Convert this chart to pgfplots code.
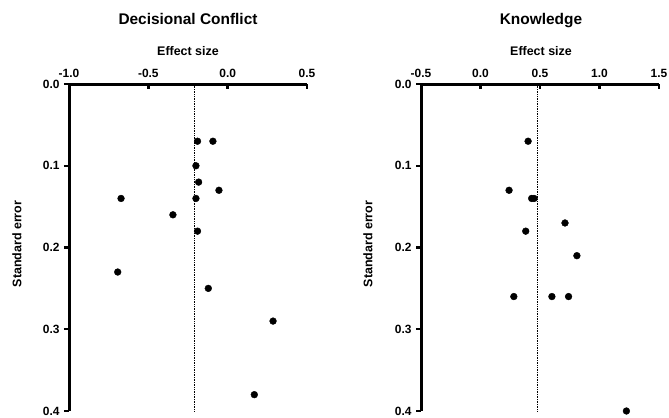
\documentclass[border=0pt]{standalone}
\usepackage{pgfplots}
\pgfplotsset{compat=1.18}
\usepackage{fontspec}
\setmainfont{Liberation Sans}
\pgfplotsset{
  funnel/.style={
    scale only axis, width=238bp, height=327bp,
    y dir=reverse,
    ymin=0, ymax=0.4,
    ytick={0,0.1,0.2,0.3,0.4},
    axis x line*=top, axis y line*=left,
    x axis line style={line width=3bp, -},
    y axis line style={line width=3bp, -},
    xtick align=inside, ytick align=outside,
    major tick length=5bp,
    every tick/.style={line width=2.4bp, black},
    every major tick/.append style={line width=2.4bp, black},
    minor tick num=0,
    /pgf/number format/assume math mode=true,
    /pgf/number format/fixed, /pgf/number format/fixed zerofill, /pgf/number format/precision=1,
    tick label style={font=\fontsize{12}{12}\selectfont\bfseries},
    x tick label style={yshift=2.5bp},
    y tick label style={xshift=-1bp},
    clip=false,
  },
}
\begin{document}
\begin{tikzpicture}
\path[use as bounding box] (0,0) rectangle (669bp,-418bp);
\begin{axis}[funnel, at={(69bp,-84bp)}, anchor=north west,
  xmin=-1, xmax=0.5, xtick={-1,-0.5,0,0.5}]
\addplot[only marks, mark=*, mark size=3.4bp, black] coordinates {
 (-0.19,0.07) (-0.093,0.07) (-0.20,0.10) (-0.183,0.12) (-0.055,0.13)
 (-0.672,0.14) (-0.20,0.14) (-0.345,0.16) (-0.19,0.18) (-0.693,0.23)
 (-0.122,0.25) (0.286,0.29) (0.168,0.38)
};
\addplot[densely dotted, black, line width=0.7pt] coordinates {(-0.212,0) (-0.212,0.4)};
\end{axis}
\begin{axis}[funnel, at={(421bp,-84bp)}, anchor=north west,
  xmin=-0.5, xmax=1.5, xtick={-0.5,0,0.5,1,1.5}]
\addplot[only marks, mark=*, mark size=3.4bp, black] coordinates {
 (0.40,0.07) (0.24,0.13) (0.43,0.14) (0.45,0.14) (0.71,0.17)
 (0.38,0.18) (0.81,0.21) (0.28,0.26) (0.60,0.26) (0.74,0.26) (1.226,0.40)
};
\addplot[densely dotted, black, line width=0.7pt] coordinates {(0.48,0) (0.48,0.4)};
\end{axis}
\node[font=\fontsize{15.5}{16}\selectfont\bfseries, anchor=base] at (188bp,-24.5bp) {Decisional Conflict};
\node[font=\fontsize{15.5}{16}\selectfont\bfseries, anchor=base] at (541bp,-24.5bp) {Knowledge};
\node[font=\fontsize{12.5}{13}\selectfont\bfseries, anchor=base] at (188bp,-55bp) {Effect size};
\node[font=\fontsize{12.5}{13}\selectfont\bfseries, anchor=base] at (541bp,-55bp) {Effect size};
\node[font=\fontsize{12.5}{13}\selectfont\bfseries, rotate=90] at (17bp,-244bp) {Standard error};
\node[font=\fontsize{12.5}{13}\selectfont\bfseries, rotate=90] at (368bp,-244bp) {Standard error};
\end{tikzpicture}
\end{document}
